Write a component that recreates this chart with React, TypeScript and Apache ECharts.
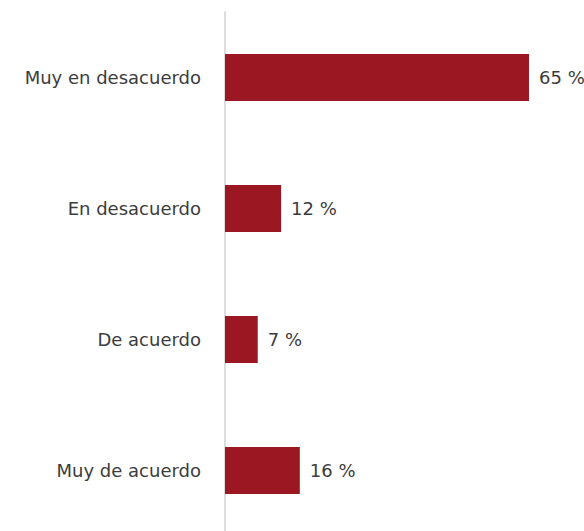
import React, { useEffect, useRef } from "react";
import * as echarts from "echarts";

const categories = ["Muy en desacuerdo", "En desacuerdo", "De acuerdo", "Muy de acuerdo"];
const values = [65, 12, 7, 16];

export default function App() {
  const ref = useRef<HTMLDivElement>(null);
  useEffect(() => {
    if (!ref.current) return;
    const chart = echarts.init(ref.current, null, { renderer: "svg" });
    chart.setOption({
      animation: false,
      grid: { left: 225, right: 55, top: 12, height: 524, containLabel: false, outerBoundsMode: "none" },
      xAxis: {
        type: "value",
        min: 0,
        max: 65,
        show: false,
      },
      yAxis: {
        type: "category",
        data: categories,
        inverse: true,
        axisLine: { show: true, lineStyle: { color: "#dcdcdc", width: 2 } },
        axisTick: { show: false },
        axisLabel: {
          margin: 24,
          color: "#3c3c3c",
          fontSize: 18,
          fontFamily: "DejaVu Sans",
        },
      },
      series: [
        {
          type: "bar",
          data: values,
          barWidth: 47,
          itemStyle: { color: "#9b1823" },
          label: {
            show: true,
            position: "right",
            distance: 10,
            formatter: "{c} %",
            color: "#3c3c3c",
            fontSize: 18,
            fontFamily: "DejaVu Sans",
          },
        },
      ],
    });
    return () => chart.dispose();
  }, []);
  return <div ref={ref} style={{ width: 584, height: 531, position: "absolute", left: 0, top: 0 }} />;
}
